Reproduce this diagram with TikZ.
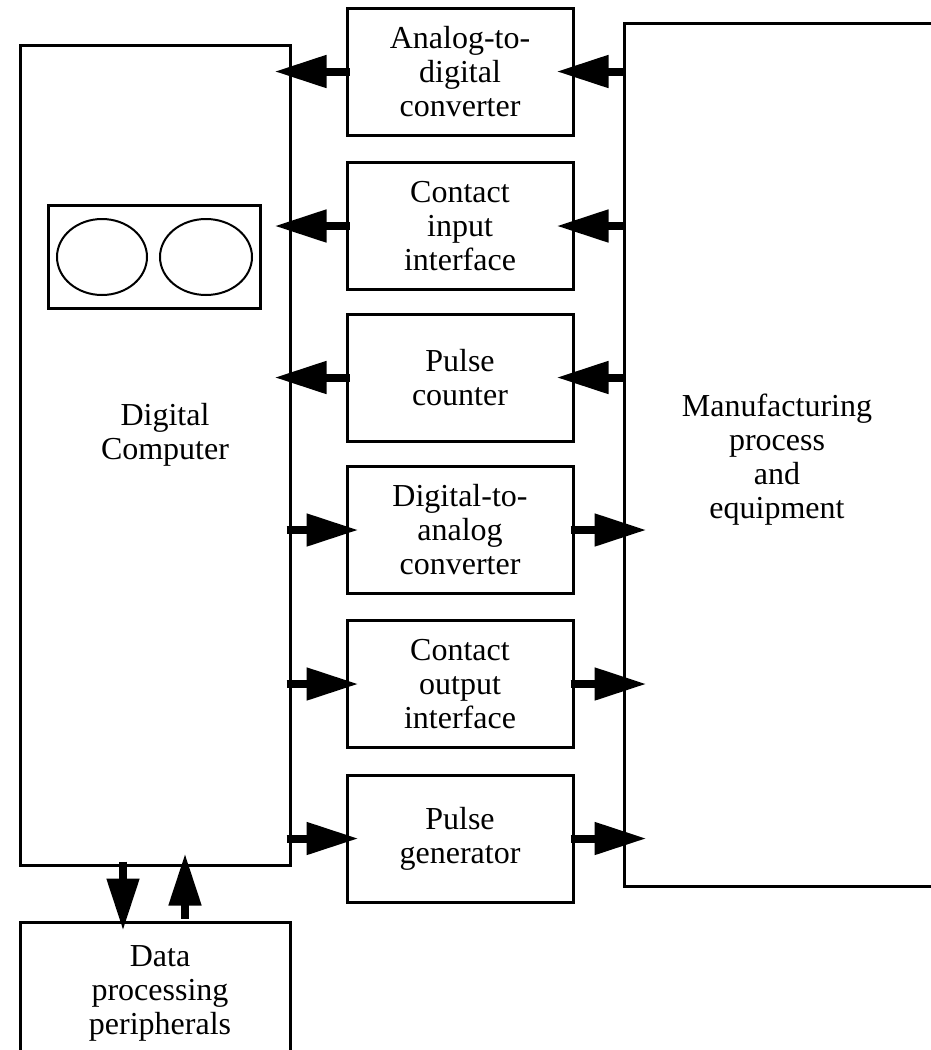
\documentclass[tikz,border=0pt]{standalone}
\usepackage{fontspec}
\setmainfont{Liberation Serif}
\usetikzlibrary{arrows.meta}
\begin{document}
\begin{tikzpicture}[x=1pt,y=-1pt,
  box/.style={draw,line width=3pt,inner sep=0pt,align=center,font=\fontsize{32}{34}\selectfont},
  mid/.style={box,minimum width=226pt,minimum height=127pt},
  lbl/.style={align=center,font=\fontsize{32}{34}\selectfont,inner sep=0pt},
  arr/.style={line width=8pt,-{Triangle[length=52pt,width=31pt]}},
  disk/.style={line width=2pt}
  ]
\clip (0,0) rectangle (931,1050);
% main boxes
\node[box,minimum width=270pt,minimum height=820pt] (comp) at (155,455) {};
\node[lbl] (comptxt) at (165,435) {Digital\\Computer};
\node[box,minimum width=212pt,minimum height=103pt] (disks) at (154,256.5) {};
\draw[disk] (102,257) ellipse [x radius=45pt, y radius=38pt];
\draw[disk] (206,257) ellipse [x radius=46pt, y radius=38pt];
\node[box,minimum width=336pt,minimum height=863pt] (mfg) at (792,454.5) {};
\node[lbl] (mfgtxt) at (777,460) {Manufacturing\\process\\and\\equipment};
\node[box,minimum width=270pt,minimum height=158pt] (per) at (155,1001) {};
\node[lbl] (pertxt) at (160,993) {Data\\processing\\peripherals};
% interface boxes
\node[mid] (ad) at (460,71.5) {Analog-to-\\digital\\converter};
\node[mid] (ci) at (460,226) {Contact\\input\\interface};
\node[mid] (pc) at (460,377.5) {Pulse\\counter};
\node[mid] (da) at (460,530) {Digital-to-\\analog\\converter};
\node[mid] (co) at (460,684) {Contact\\output\\interface};
\node[mid] (pg) at (460,838.5) {Pulse\\generator};
% inputs (towards computer)
\foreach \n in {ad,ci,pc}{
  \draw[arr] ([xshift=4pt]\n.west) -- ([xshift=-17pt]comp.east |- \n.west);
  \draw[arr] ([xshift=3pt]mfg.west |- \n.east) -- ([xshift=-18pt]\n.east);
}
% outputs (towards process)
\foreach \n in {da,co,pg}{
  \draw[arr] ([xshift=-5pt]comp.east |- \n.west) -- ([xshift=13pt]\n.west);
  \draw[arr] ([xshift=-4pt]\n.east) -- ([xshift=24pt]mfg.west |- \n.east);
}
% computer <-> peripherals
\draw[arr] ([xshift=-32pt,yshift=5pt]comp.south) -- ([xshift=-32pt,yshift=-10pt]per.north);
\draw[arr] ([xshift=30pt,yshift=2pt]per.north) -- ([xshift=30pt,yshift=13pt]comp.south);
\end{tikzpicture}
\end{document}
